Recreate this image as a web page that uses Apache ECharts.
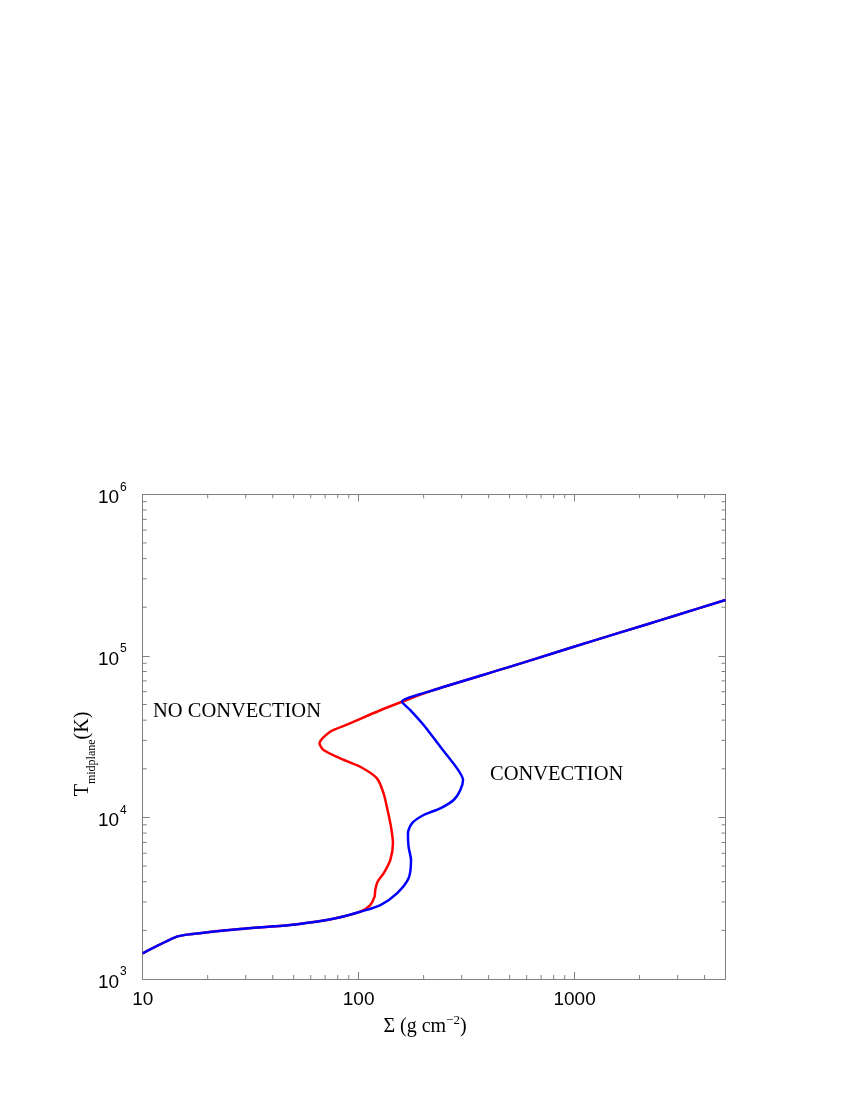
<!DOCTYPE html>
<html>
<head>
<meta charset="utf-8">
<script src="https://cdn.jsdelivr.net/npm/echarts@6/dist/echarts.min.js"></script>
<style>
html,body{margin:0;padding:0;background:#fff;}
#c{width:850px;height:1100px;}
</style>
</head>
<body>
<div id="c"></div>
<script>
// Shared cool (low temperature) branch: [Sigma, T]
const coolBranch = [[10,1443],[14.4,1827],[16.6,1891],[28.3,2039],[48.2,2159],[71.3,2318],[82.1,2409],[101.7,2609]];
// S-curve without convection
const noConvBranch = [[113.2,2870],[118.5,3231],[119.4,3553],[122.4,4000],[130.5,4510],[140.1,5451],[144.2,6915],[141.2,8759],[136.1,11110],[130.5,14100],[121.6,17460],[101.7,20590],[82.1,23210],[68.8,26130],[65.9,28730],[73.8,33920],[88.3,37520],[126,46060],[158.8,52000]];
// S-curve with convection
const convBranch = [[126.2,2870],[150.5,3391],[170.3,4199],[174.8,5451],[170.3,6587],[169.2,7972],[176.6,9194],[200,10350],[238.9,11385],[275.4,12815],[295.8,14780],[304.5,17036],[285.6,20130],[238.9,27380],[200,37310],[173.5,46180],[158.8,52000]];
// Shared hot branch
const hotBranch = [[158.8,52000],[214.8,60530],[487,84530],[830.6,105700],[1185,122500],[2171,157000],[2884,176600],[5000,221500]];

const xMinorTicks = [20,30,40,50,60,70,80,90,200,300,400,500,600,700,800,900,2000,3000,4000];
const yMinorTicks = [2000,3000,4000,5000,6000,7000,8000,9000,20000,30000,40000,50000,60000,70000,80000,90000,200000,300000,400000,500000,600000,700000,800000,900000];

const xRange = [10, 5000];
const yRange = [1000, 1000000];

const redLine = coolBranch.concat(noConvBranch, hotBranch);
const blueLine = coolBranch.concat(convBranch, hotBranch);

const axisColor = '#808080';
const chart = echarts.init(document.getElementById('c'), null, {renderer:'canvas'});

function baseX(pos, showLabel) {
  return {
    type:'log', logBase:10, min:xRange[0], max:xRange[1], position:pos,
    axisLine:{show:true, lineStyle:{color:axisColor, width:1}},
    axisTick:{show:true, inside:true, length:7, lineStyle:{color:axisColor}},
    splitLine:{show:false},
    axisLabel:{show:showLabel, showMaxLabel:false, margin:11, color:'#000', fontFamily:'Liberation Sans', fontSize:19,
      formatter: v => String(Math.round(v))}
  };
}
function baseY(pos, showLabel) {
  return {
    type:'log', logBase:10, min:yRange[0], max:yRange[1], position:pos,
    axisLine:{show:true, lineStyle:{color:axisColor, width:1}},
    axisTick:{show:true, inside:true, length:7, lineStyle:{color:axisColor}},
    splitLine:{show:false},
    axisLabel:{show:showLabel, margin:16, color:'#000',
      formatter: v => '{a|10}{b|' + Math.round(Math.log10(v)) + '}',
      rich:{
        a:{fontFamily:'Liberation Sans', fontSize:19, color:'#000', lineHeight:26, verticalAlign:'bottom'},
        b:{fontFamily:'Liberation Sans', fontSize:12, color:'#000', lineHeight:26, verticalAlign:'top', padding:[0,0,0,1]}
      }}
  };
}

function minorX(params, api) {
  const v = api.value(0);
  const pb = api.coord([v, yRange[0]]);
  const pt = api.coord([v, yRange[1]]);
  const st = {stroke:axisColor, lineWidth:1};
  return {type:'group', children:[
    {type:'line', shape:{x1:pb[0], y1:pb[1], x2:pb[0], y2:pb[1]-4}, style:st},
    {type:'line', shape:{x1:pt[0], y1:pt[1], x2:pt[0], y2:pt[1]+4}, style:st}
  ]};
}
function minorY(params, api) {
  const v = api.value(1);
  const pl = api.coord([xRange[0], v]);
  const pr = api.coord([xRange[1], v]);
  const st = {stroke:axisColor, lineWidth:1};
  return {type:'group', children:[
    {type:'line', shape:{x1:pl[0], y1:pl[1], x2:pl[0]+4, y2:pl[1]}, style:st},
    {type:'line', shape:{x1:pr[0], y1:pr[1], x2:pr[0]-4, y2:pr[1]}, style:st}
  ]};
}

const option = {
  backgroundColor:'#fff',
  animation:false,
  grid:{left:142.7, right:124.5, top:494.3, bottom:121, containLabel:false},
  xAxis:[baseX('bottom', true), baseX('top', false)],
  yAxis:[baseY('left', true), baseY('right', false)],
  series:[
    {type:'custom', renderItem:minorX, data:xMinorTicks.map(v => [v, yRange[0]]), silent:true, clip:false, z:1},
    {type:'custom', renderItem:minorY, data:yMinorTicks.map(v => [xRange[0], v]), silent:true, clip:false, z:1},
    {type:'line', data:redLine, showSymbol:false, smooth:0.25, lineStyle:{color:'#ff0000', width:2.5}, z:2},
    {type:'line', data:blueLine, showSymbol:false, smooth:0.25, lineStyle:{color:'#0000ff', width:2.5}, z:3}
  ],
  graphic:[
    {type:'text', left:153, top:701, style:{text:'NO CONVECTION', fontFamily:'Liberation Serif', fontSize:20.5, fill:'#000'}},
    {type:'text', left:490, top:764, style:{text:'CONVECTION', fontFamily:'Liberation Serif', fontSize:20.5, fill:'#000'}},
    {type:'text', x:425, y:1027, style:{text:'Σ (g cm{s|−2})', fontFamily:'Liberation Serif', fontSize:20, fill:'#000', align:'center', verticalAlign:'middle',
      rich:{s:{fontFamily:'Liberation Serif', fontSize:13, verticalAlign:'top', lineHeight:26}}}},
    {type:'text', x:83, y:754, rotation:Math.PI/2, style:{text:'T{s|midplane}(K)', fontFamily:'Liberation Serif', fontSize:20, fill:'#000', align:'center', verticalAlign:'middle',
      rich:{s:{fontFamily:'Liberation Serif', fontSize:12, verticalAlign:'bottom', lineHeight:30}}}}
  ]
};
chart.setOption(option);
</script>
</body>
</html>
